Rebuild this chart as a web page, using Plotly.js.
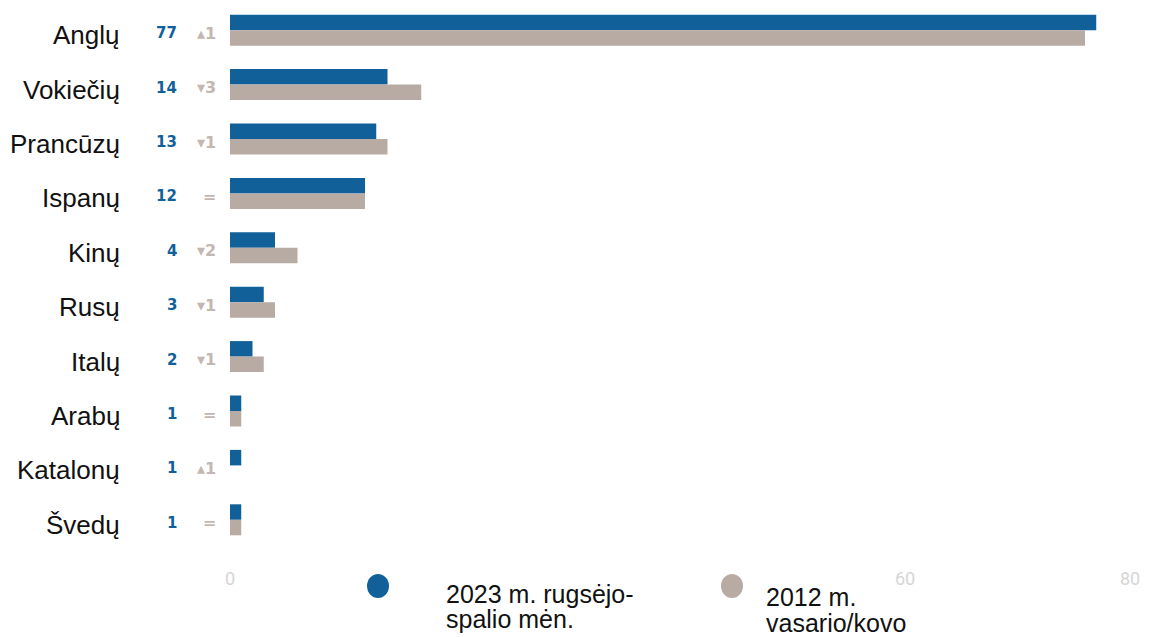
<!DOCTYPE html>
<html>
<head>
<meta charset="utf-8">
<script src="https://cdn.plot.ly/plotly-3.0.1.min.js"></script>
<style>html,body{margin:0;padding:0;background:#fff;}#chart{width:1157px;height:637px;}</style>
</head>
<body>
<div id="chart"></div>
<script>
const categories = ["Anglų","Vokiečių","Prancūzų","Ispanų","Kinų","Rusų","Italų","Arabų","Katalonų","Švedų"];
const values2023 = [77,14,13,12,4,3,2,1,1,1];
const values2012 = [76,17,14,12,6,4,3,1,0,1];
const seriesNames = [["2023 m. rugsėjo-","spalio mėn."],["2012 m.","vasario/kovo"]];
const tickValues = [0,60,80];

const blue = "#11609a";
const gray = "#b8aba4";

const traces = [
  {type:"bar", orientation:"h", y:categories, x:values2023, marker:{color:blue}, showlegend:false, hoverinfo:"x"},
  {type:"bar", orientation:"h", y:categories, x:values2012, marker:{color:gray}, showlegend:false, hoverinfo:"x"}
];

const annotations = [];
categories.forEach((c,i)=>{
  annotations.push({xref:"paper", yref:"y", x:0, y:c, xanchor:"right", yanchor:"middle", xshift:-108, yshift:-5,
    text:c, showarrow:false, font:{family:"Liberation Sans, Arial", size:26, color:"#111"}});
  annotations.push({xref:"paper", yref:"y", x:0, y:c, xanchor:"right", yanchor:"middle", xshift:-51, yshift:-3,
    text:"<b>"+values2023[i]+"</b>", showarrow:false, font:{family:"DejaVu Sans", size:15, color:blue}});
  const d = values2023[i]-values2012[i];
  const t = d>0 ? "▴"+d : (d<0 ? "▾"+(-d) : "=");
  annotations.push({xref:"paper", yref:"y", x:0, y:c, xanchor:"right", yanchor:"middle", xshift:-12, yshift:-3,
    text:"<b>"+t+"</b>", showarrow:false, font:{family:"DejaVu Sans", size:16, color:"#c2b7b1"}});
});

// custom legend
const legendX = [(444-230)/900, (764-230)/900];
const circleX = [(378-230)/900, (732-230)/900];
const legendColors = [blue, gray];
const lineYShift = [[-31,-56],[-34,-60]];
const shapes = [];
seriesNames.forEach((lines,k)=>{
  lines.forEach((ln,j)=>{
    annotations.push({xref:"paper", yref:"paper", x:legendX[k], y:0, xanchor:"left", yanchor:"top",
      yshift:lineYShift[k][j], text:ln, showarrow:false,
      font:{family:"Liberation Sans, Arial", size:25, color:"#111"}});
  });
  shapes.push({type:"circle", xref:"paper", yref:"paper", xsizemode:"pixel", ysizemode:"pixel",
    xanchor:circleX[k], yanchor:0, x0:-11, x1:11, y0:-51, y1:-27,
    fillcolor:legendColors[k], line:{width:0}});
});

const layout = {
  width:1157, height:637,
  margin:{l:230, r:27, t:3, b:90},
  paper_bgcolor:"#fff", plot_bgcolor:"#fff",
  barmode:"group", bargap:0.43, bargroupgap:0,
  showlegend:false,
  xaxis:{range:[0,80], tickvals:tickValues, ticks:"outside", ticklen:15, tickcolor:"rgba(0,0,0,0)",
    showgrid:false, zeroline:false, showline:false,
    tickfont:{family:"Roboto, Liberation Sans", size:18, color:"#d6d6d6"}},
  yaxis:{type:"category", autorange:"reversed", showticklabels:false, showgrid:false, zeroline:false, showline:false, ticks:""},
  annotations:annotations,
  shapes:shapes
};

Plotly.newPlot("chart", traces, layout, {displayModeBar:false, staticPlot:true});
</script>
</body>
</html>
